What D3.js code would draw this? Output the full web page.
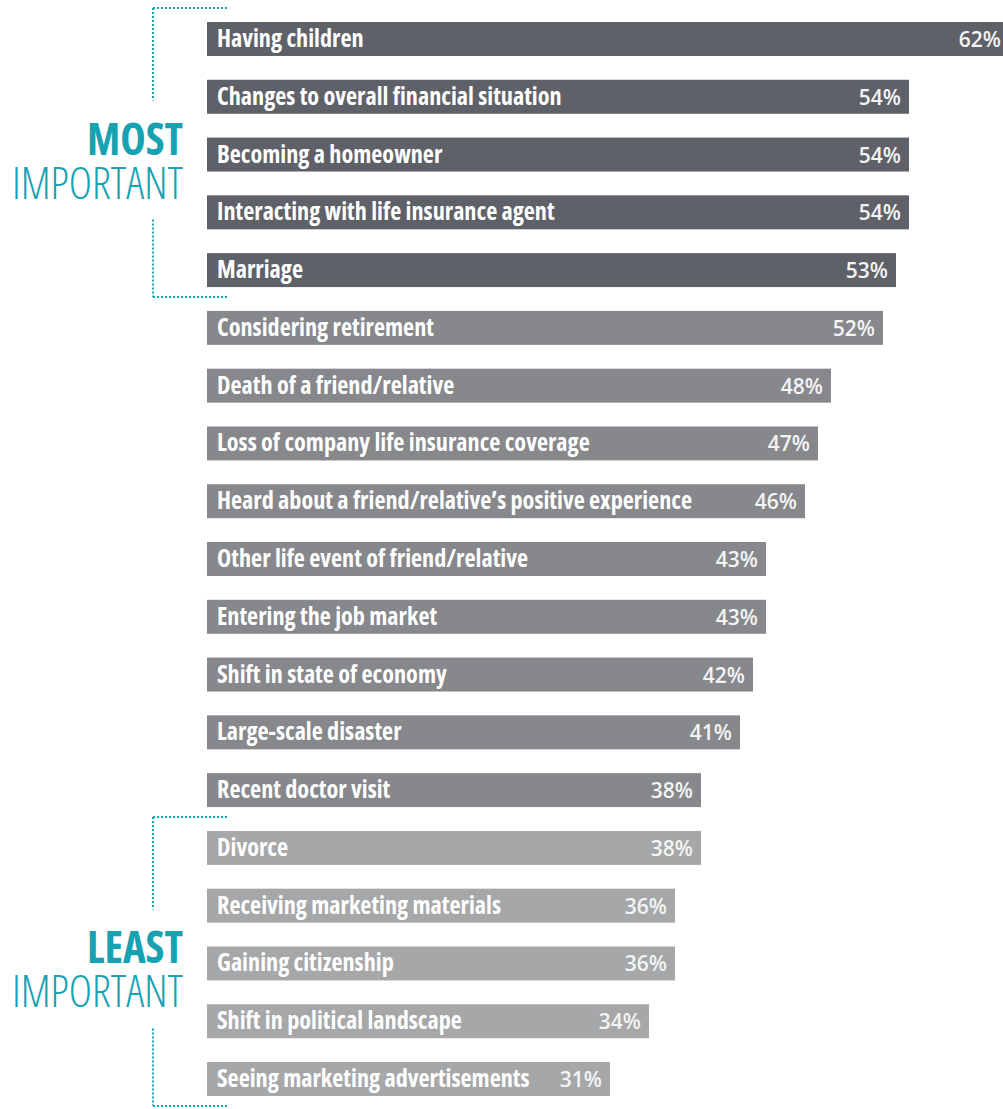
<!DOCTYPE html>
<html lang="en">
<head>
<meta charset="utf-8">
<title>Life events</title>
<script src="https://d3js.org/d3.v7.min.js"></script>
<style>
  body { margin: 0; background: #fff; }
  .lbl { font-family: "Open Sans", "Liberation Sans Narrow", sans-serif; font-stretch: 75%; font-weight: 700; fill: #fff; }
  .pct { font-family: "Open Sans", sans-serif; font-weight: 600; fill: #f4f4f4; }
  .head { font-family: "Open Sans", sans-serif; font-stretch: 75%; fill: #17a2b1; }
</style>
</head>
<body>
<div id="chart"></div>
<script>
// data
var events = [
  "Having children",
  "Changes to overall financial situation",
  "Becoming a homeowner",
  "Interacting with life insurance agent",
  "Marriage",
  "Considering retirement",
  "Death of a friend/relative",
  "Loss of company life insurance coverage",
  "Heard about a friend/relative\u2019s positive experience",
  "Other life event of friend/relative",
  "Entering the job market",
  "Shift in state of economy",
  "Large-scale disaster",
  "Recent doctor visit",
  "Divorce",
  "Receiving marketing materials",
  "Gaining citizenship",
  "Shift in political landscape",
  "Seeing marketing advertisements"
];
var values = [62, 54, 54, 54, 53, 52, 48, 47, 46, 43, 43, 42, 41, 38, 38, 36, 36, 34, 31];
// 0 = most important, 1 = middle, 2 = least important
var groups = [0, 0, 0, 0, 0, 1, 1, 1, 1, 1, 1, 1, 1, 1, 2, 2, 2, 2, 2];
var colors = ["#5f6168", "#86888c", "#a6a7a9"];

var width = 1003, height = 1109;

var svg = d3.select("#chart").append("svg")
    .attr("width", width)
    .attr("height", height);

var x = d3.scaleLinear()
    .domain([0, 54])
    .range([207, 909]);

var y = d3.scaleBand()
    .domain(events)
    .range([22, 1096])
    .paddingInner(0.412)
    .paddingOuter(0);

var rows = svg.selectAll("g.row")
  .data(events)
  .enter().append("g")
    .attr("class", "row")
    .attr("transform", function(d) { return "translate(0," + y(d) + ")"; });

rows.append("rect")
    .attr("x", x(0))
    .attr("height", y.bandwidth())
    .attr("width", function(d, i) { return x(values[i]) - x(0); })
    .attr("fill", function(d, i) { return colors[groups[i]]; });

rows.append("text")
    .attr("class", "lbl")
    .attr("x", x(0) + 10)
    .attr("y", 25)
    .style("font-size", "24.2px")
    .text(function(d) { return d; });

rows.append("text")
    .attr("class", "pct")
    .attr("x", function(d, i) { return Math.min(x(values[i]) - 8, width - 2); })
    .attr("y", 25)
    .attr("text-anchor", "end")
    .style("font-size", "21px")
    .text(function(d, i) { return values[i] + "%"; });

// brackets + headings
function bracket(first, last, word) {
  var top = y(first) - 14,
      bottom = y(last) + y.bandwidth() + 10,
      mid = (top + bottom) / 2,
      bx = 153;
  var g = svg.append("g");
  [[bx, top, 227, top], [bx, top, bx, mid - 52], [bx, mid + 67, bx, bottom], [bx, bottom, 227, bottom]]
    .forEach(function(l) {
      g.append("line")
        .attr("x1", l[0]).attr("y1", l[1])
        .attr("x2", l[2]).attr("y2", l[3])
        .attr("stroke", "#17a2b1")
        .attr("stroke-width", 2)
        .attr("stroke-dasharray", "2,2");
    });

  var t = g.append("text")
    .attr("class", "head")
    .attr("text-anchor", "end")
    .style("font-size", "45px");

  t.append("tspan")
    .attr("x", 183)
    .attr("y", mid + 2)
    .attr("textLength", 96)
    .attr("lengthAdjust", "spacingAndGlyphs")
    .style("font-weight", 700)
    .text(word);

  t.append("tspan")
    .attr("x", 183)
    .attr("y", mid + 46)
    .attr("textLength", 171)
    .attr("lengthAdjust", "spacingAndGlyphs")
    .style("font-weight", 300)
    .text("IMPORTANT");
}

bracket(events[0], events[4], "MOST");
bracket(events[14], events[18], "LEAST");
</script>
</body>
</html>
